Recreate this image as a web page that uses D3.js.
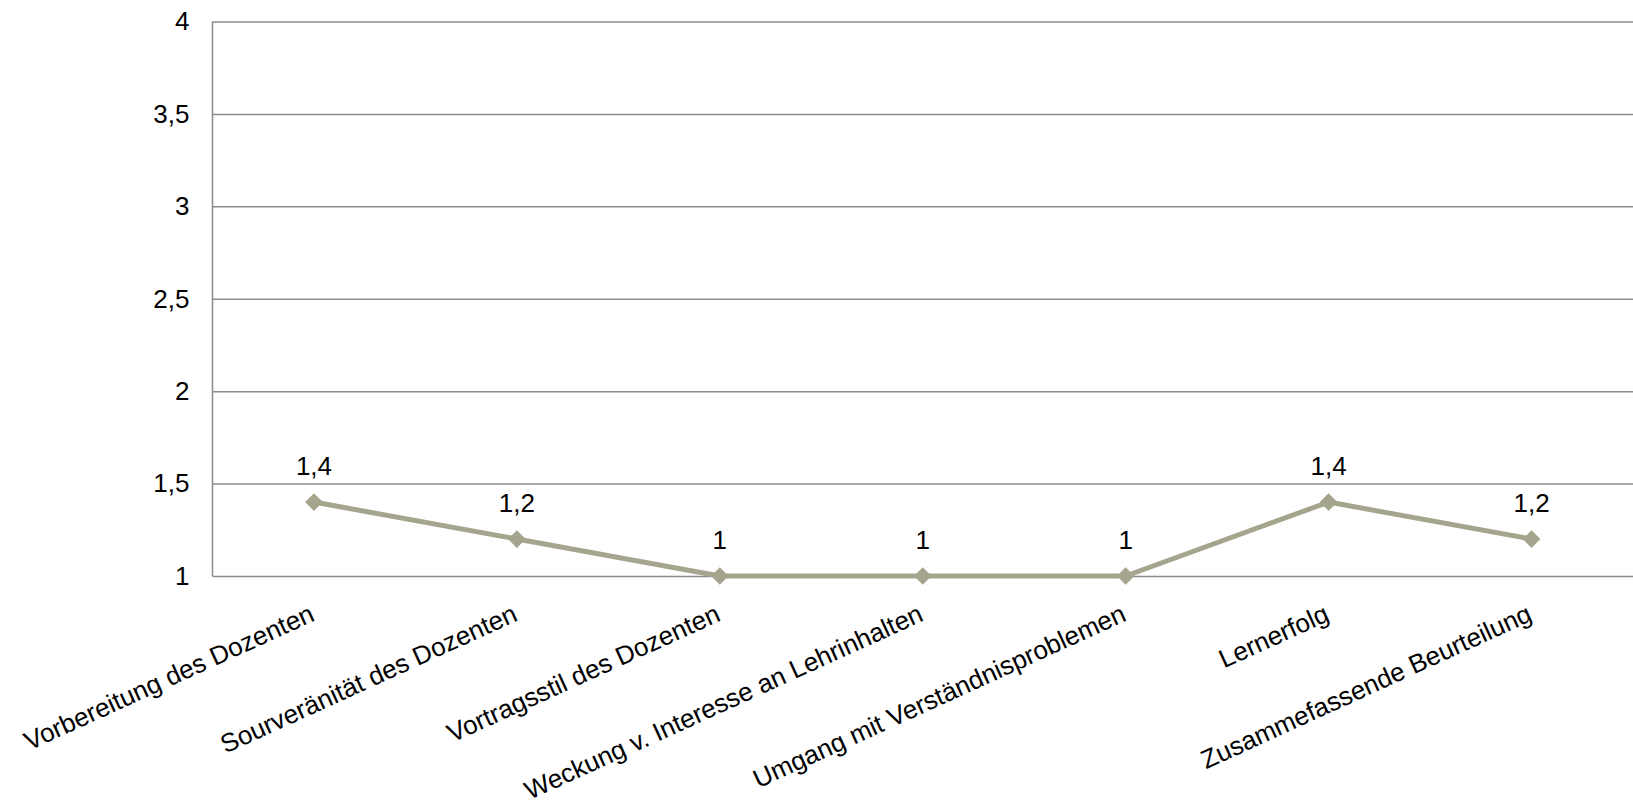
<!DOCTYPE html>
<html>
<head>
<meta charset="utf-8">
<script src="https://cdn.jsdelivr.net/npm/d3@7"></script>
<style>
  html, body { margin: 0; padding: 0; background: #fff; overflow: hidden; }
  svg { display: block; }
  text { font-family: Arial, "Liberation Sans", sans-serif; fill: #000; }
</style>
</head>
<body>
<svg id="chart" width="1633" height="802"></svg>
<script>
// Data
const categories = [
    'Vorbereitung des Dozenten',
    'Sourveränität des Dozenten',
    'Vortragsstil des Dozenten',
    'Weckung v. Interesse an Lehrinhalten',
    'Umgang mit Verständnisproblemen',
    'Lernerfolg',
    'Zusammefassende Beurteilung'
];
const values = [1.4, 1.2, 1, 1, 1, 1.4, 1.2];
const yTicks = [1, 1.5, 2, 2.5, 3, 3.5, 4];

const svg = d3.select('#chart');
const width = +svg.attr('width');
const height = +svg.attr('height');

const margin = {top: 21.5, right: 0, bottom: 226, left: 212.5};
const innerWidth = width - margin.left - margin.right;
const innerHeight = height - margin.top - margin.bottom;

const lineColor = '#a5a58d';
const gridColor = '#8c8c8c';
const fontSize = '26px';

const fmt = v => String(v).replace('.', ',');

const xScale = d3.scaleBand()
    .domain(categories)
    .range([0, innerWidth])
    .padding(0);

const yScale = d3.scaleLinear()
    .domain([1, 4])
    .range([innerHeight, 0]);

const g = svg.append('g')
    .attr('transform', `translate(${margin.left}, ${margin.top})`);

// gridlines + y labels
const yAxis = d3.axisLeft(yScale)
    .tickValues(yTicks)
    .tickFormat(fmt)
    .tickSize(-innerWidth)
    .tickPadding(23);

const yAxisG = g.append('g').call(yAxis);
yAxisG.attr('font-size', null).attr('font-family', null);
yAxisG.select('.domain').remove();
yAxisG.selectAll('.tick line')
    .attr('stroke', gridColor)
    .attr('stroke-width', 1.5);
yAxisG.selectAll('.tick text')
    .style('font-size', fontSize)
    .attr('fill', '#000');

// left axis line
g.append('line')
    .attr('x1', 0).attr('x2', 0)
    .attr('y1', 0).attr('y2', innerHeight)
    .attr('stroke', gridColor)
    .attr('stroke-width', 1.5);

// category labels, rotated
const xAxis = d3.axisBottom(xScale).tickSize(0).tickPadding(0);
const xAxisG = g.append('g')
    .attr('transform', `translate(0, ${innerHeight})`)
    .call(xAxis);
xAxisG.attr('font-size', null).attr('font-family', null);
xAxisG.select('.domain').remove();
xAxisG.selectAll('.tick text')
    .style('font-size', fontSize)
    .attr('text-anchor', 'end')
    .attr('dy', null)
    .attr('y', null)
    .attr('transform', 'translate(2, 44) rotate(-24.5)');

const cx = d => xScale(d) + xScale.bandwidth() / 2;

// line
const lineGenerator = d3.line()
    .x((d, i) => cx(categories[i]))
    .y(d => yScale(d));

g.append('path')
    .attr('d', lineGenerator(values))
    .attr('fill', 'none')
    .attr('stroke', lineColor)
    .attr('stroke-width', 5)
    .attr('stroke-linejoin', 'round');

// markers (diamonds)
g.selectAll('.marker').data(values)
    .enter().append('path')
        .attr('class', 'marker')
        .attr('d', d3.symbol().type(d3.symbolDiamond2).size(200))
        .attr('transform', (d, i) => `translate(${cx(categories[i])}, ${yScale(d)})`)
        .attr('fill', lineColor);

// data labels
g.selectAll('.dlabel').data(values)
    .enter().append('text')
        .attr('class', 'dlabel')
        .attr('x', (d, i) => cx(categories[i]))
        .attr('y', d => yScale(d) - 27.5)
        .attr('text-anchor', 'middle')
        .style('font-size', fontSize)
        .text(fmt);
</script>
</body>
</html>
